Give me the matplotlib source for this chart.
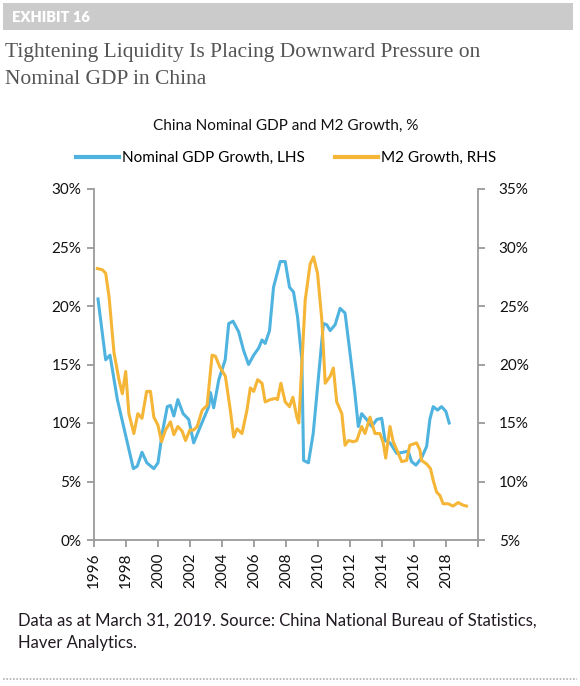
import numpy as np
import matplotlib
matplotlib.use('Agg')
from matplotlib import pyplot as plt
from matplotlib.patches import Rectangle
from matplotlib.lines import Line2D

# Nominal GDP growth (LHS, %)
gdp_year = [1996.25, 1996.73, 1997.0, 1997.46, 1998.46, 1998.7, 1999.0, 1999.3, 1999.74, 2000.0,
            2000.26, 2000.58, 2000.78, 2000.99, 2001.24, 2001.57, 2001.92, 2002.23, 2002.65, 2003.17,
            2003.28, 2003.48, 2003.8, 2004.2, 2004.42, 2004.69, 2005.04, 2005.35, 2005.66, 2005.98,
            2006.29, 2006.5, 2006.7, 2006.97, 2007.22, 2007.64, 2007.95, 2008.22, 2008.47, 2008.72,
            2008.99, 2009.1, 2009.4, 2009.7, 2010.13, 2010.34, 2010.55, 2010.76, 2011.07, 2011.38,
            2011.69, 2012.0, 2012.3, 2012.52, 2012.73, 2013.04, 2013.36, 2013.67, 2013.98, 2014.19,
            2014.5, 2014.92, 2015.33, 2015.64, 2015.85, 2016.12, 2016.47, 2016.79, 2016.99, 2017.2,
            2017.47, 2017.72, 2017.99, 2018.2]
gdp_val = [20.6, 15.4, 15.8, 12.0, 6.1, 6.3, 7.5, 6.6, 6.1, 6.6,
           9.1, 11.4, 11.5, 10.6, 12.0, 10.8, 10.3, 8.3, 9.7, 11.4,
           12.6, 11.3, 13.7, 15.4, 18.5, 18.7, 17.8, 16.2, 15.0, 15.8,
           16.4, 17.1, 16.8, 17.9, 21.6, 23.8, 23.8, 21.6, 21.2, 19.1,
           15.4, 6.8, 6.6, 9.1, 15.4, 18.5, 18.4, 17.9, 18.4, 19.8,
           19.4, 16.0, 12.6, 9.7, 10.8, 10.3, 9.7, 10.3, 10.4, 8.5,
           8.3, 7.4, 7.5, 7.6, 6.7, 6.4, 7.0, 8.0, 10.3, 11.4,
           11.1, 11.4, 11.0, 10.0]

# M2 growth (RHS, %)
m2_year = [1996.21, 1996.52, 1996.73, 1996.94, 1997.25, 1997.56, 1997.77, 1997.98, 1998.18, 1998.49,
           1998.74, 1999.0, 1999.29, 1999.53, 1999.74, 2000.0, 2000.22, 2000.47, 2000.78, 2000.99,
           2001.24, 2001.51, 2001.72, 2001.99, 2002.23, 2002.45, 2002.76, 2003.07, 2003.38, 2003.59,
           2003.86, 2004.21, 2004.52, 2004.73, 2004.94, 2005.25, 2005.56, 2005.77, 2005.98, 2006.23,
           2006.5, 2006.7, 2007.02, 2007.33, 2007.47, 2007.68, 2007.95, 2008.22, 2008.43, 2008.68,
           2008.8, 2009.2, 2009.51, 2009.72, 2009.97, 2010.24, 2010.45, 2010.76, 2010.96, 2011.17,
           2011.49, 2011.69, 2011.9, 2012.21, 2012.42, 2012.73, 2012.94, 2013.25, 2013.56, 2013.87,
           2014.08, 2014.23, 2014.5, 2014.7, 2015.02, 2015.23, 2015.54, 2015.74, 2016.16, 2016.37,
           2016.47, 2016.79, 2017.03, 2017.2, 2017.41, 2017.62, 2017.82, 2018.13, 2018.44, 2018.76,
           2019.03, 2019.28]
m2_val = [28.2, 28.1, 27.8, 25.8, 21.0, 18.7, 17.5, 19.4, 15.8, 14.1,
          15.8, 15.4, 17.7, 17.7, 15.5, 14.8, 13.4, 14.4, 15.1, 14.0,
          14.7, 14.3, 13.5, 14.4, 14.4, 14.7, 16.1, 16.5, 20.8, 20.7,
          19.8, 19.0, 16.1, 13.8, 14.5, 14.1, 16.1, 18.0, 17.7, 18.7,
          18.4, 16.8, 17.0, 17.1, 17.0, 18.4, 16.8, 16.4, 17.2, 15.5,
          15.0, 25.5, 28.6, 29.2, 27.8, 23.8, 18.4, 19.0, 19.7, 16.8,
          15.8, 13.1, 13.5, 13.4, 13.5, 14.7, 14.1, 15.5, 14.1, 14.1,
          13.3, 12.0, 14.7, 13.4, 12.4, 11.7, 11.8, 13.1, 13.3, 12.7,
          11.8, 11.5, 11.1, 10.1, 9.1, 8.8, 8.1, 8.1, 7.9, 8.2,
          8.0, 7.9]

year_ticks = list(range(1996, 2021, 2))
year_labels = [str(y) for y in year_ticks[:-1]] + ['']
lhs_ticks = [0, 5, 10, 15, 20, 25, 30]
rhs_ticks = [5, 10, 15, 20, 25, 30, 35]

blue = '#4fb3e0'
orange = '#f5b536'
axcol = '#9a9a9a'
sans = 'Lato'

fig = plt.figure(figsize=(5.8, 6.86), dpi=100)
fig.patch.set_facecolor('white')

# header bar
fig.patches.append(Rectangle((3/580, 1-30/686), 570/580, 27/686, transform=fig.transFigure,
                             facecolor='#cbcbcb', edgecolor='none'))
fig.text(12/580, 1-17/686, 'EXHIBIT 16', color='white', fontsize=10.5, fontweight='heavy',
         family=sans, va='center', ha='left')
fig.text(5/580, 1-52/686, 'Tightening Liquidity Is Placing Downward Pressure on', color='#555555',
         fontsize=15.5, family='Liberation Serif', va='center', ha='left')
fig.text(5/580, 1-80/686, 'Nominal GDP in China', color='#555555',
         fontsize=15.5, family='Liberation Serif', va='center', ha='left')

fig.text(286/580, 1-126/686, 'China Nominal GDP and M2 Growth, %', color='#111111',
         fontsize=11, family=sans, ha='center', va='center')

ax = fig.add_axes([94/580, 1-540/686, 384/580, 351/686])
ax2 = ax.twinx()

ax.plot(gdp_year, gdp_val, color=blue, lw=2.2, solid_joinstyle='round', zorder=3)
ax2.plot(m2_year, m2_val, color=orange, lw=2.2, solid_joinstyle='round', zorder=2)

ax.set_xlim(1996, 2020)
ax.set_ylim(0, 30)
ax2.set_ylim(5, 35)
ax.set_xticks(year_ticks)
ax.set_xticklabels(year_labels, rotation=90)
ax.set_yticks(lhs_ticks)
ax.set_yticklabels([f'{t}%' for t in lhs_ticks])
ax2.set_yticks(rhs_ticks)
ax2.set_yticklabels([f'{t}%' for t in rhs_ticks])

for a in (ax, ax2):
    a.spines['top'].set_visible(False)
    for s in ('left', 'right', 'bottom'):
        a.spines[s].set_color(axcol)
        a.spines[s].set_linewidth(1.3)
    a.tick_params(colors=axcol, width=1.3, length=5, labelcolor='#111111', labelsize=11)
    for lab in a.get_xticklabels() + a.get_yticklabels():
        lab.set_family(sans)
ax.spines['right'].set_visible(False)
ax2.spines['left'].set_visible(False)
ax2.spines['bottom'].set_visible(False)
ax.tick_params(axis='y', pad=4)
ax2.tick_params(axis='y', pad=10)
ax.tick_params(axis='x', pad=4)

# legend above plot
handles = [Line2D([], [], color=blue, lw=3), Line2D([], [], color=orange, lw=3)]
fig.legend(handles, ['Nominal GDP Growth, LHS', 'M2 Growth, RHS'], loc='center',
           bbox_to_anchor=(286/580, 1-158/686), ncol=2, frameon=False, handlelength=2.8,
           handletextpad=0.2, columnspacing=2.0, prop={'family': sans, 'size': 11})

fig.text(18/580, 1-621/686, 'Data as at March 31, 2019. Source: China National Bureau of Statistics,',
         fontsize=12, family=sans, color='#221a22', va='center')
fig.text(18/580, 1-643/686, 'Haver Analytics.', fontsize=12, family=sans, color='#221a22', va='center')

fig.add_artist(Line2D([3/580, 577/580], [1-679/686, 1-679/686], transform=fig.transFigure,
                      color='#b0b0b0', lw=1.2, linestyle=(0, (1, 1))))

plt.savefig('out.png', dpi=100)
